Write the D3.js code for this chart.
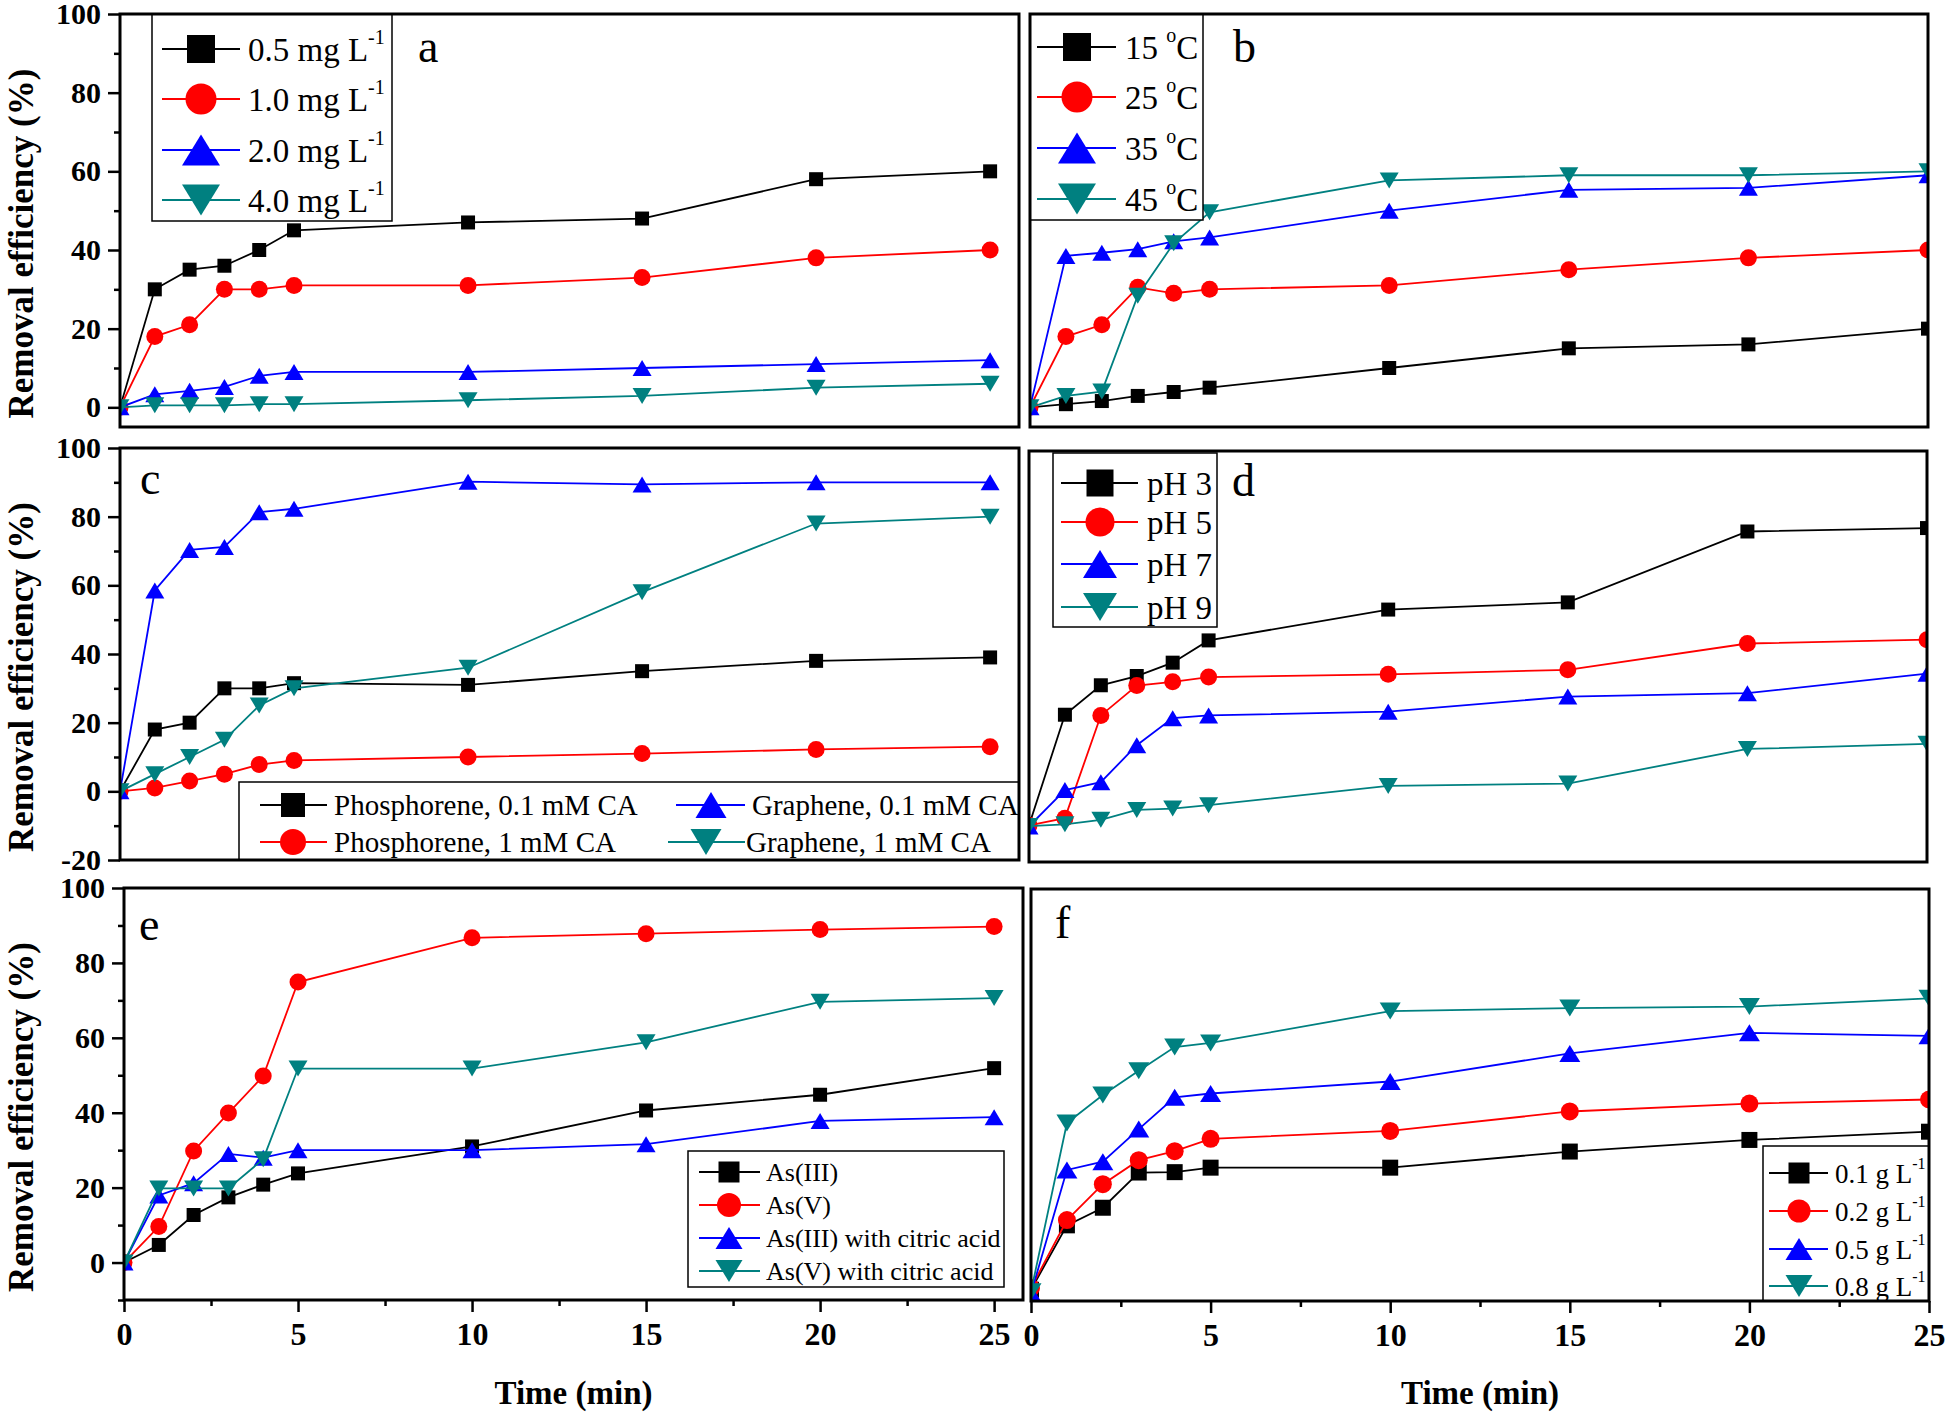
<!DOCTYPE html>
<html>
<head>
<meta charset="utf-8">
<script src="https://cdn.jsdelivr.net/npm/d3@7"></script>
<style>
  body { margin: 0; background: #fff; }
  svg { display: block; }
  text { font-family: "Liberation Serif", "Times New Roman", serif; }
</style>
</head>
<body>
<div id="vis"></div>
<script>
// sampling times (min), same for every panel
var timeMin = [0, 1, 2, 3, 4, 5, 10, 15, 20, 25];

// a - initial As concentration
var conc05 = [0, 30, 35, 36, 40, 45, 47, 48, 58, 60];
var conc10 = [0, 18, 21, 30, 30, 31, 31, 33, 38, 40];
var conc20 = [0, 3.3, 4.2, 5.2, 8, 9, 9, 10, 11, 12];
var conc40 = [0, 0.5, 0.5, 0.5, 0.8, 0.8, 1.8, 2.9, 5, 6];
var legendA = ['0.5 mg L^-1', '1.0 mg L^-1', '2.0 mg L^-1', '4.0 mg L^-1'];

// b - temperature
var temp15 = [0, 0.8, 1.6, 2.9, 3.9, 5, 10, 15, 16, 20];
var temp25 = [0, 18, 21, 30.5, 29, 30, 31, 35, 38, 40];
var temp35 = [0, 38.5, 39.3, 40.2, 42.2, 43.2, 50, 55.3, 55.8, 59];
var temp45 = [0, 2.9, 4, 28.4, 41.7, 49.6, 57.7, 59, 59, 60];
var legendB = ['15 ^o^C', '25 ^o^C', '35 ^o^C', '45 ^o^C'];

// c - citric acid, phosphorene vs graphene
var phos01 = [0, 18, 20, 30, 30, 31.5, 31, 35, 38, 39];
var phos1 = [0, 1, 3, 5, 7.8, 9, 10, 11, 12.2, 13];
var graph01 = [0, 58.5, 70.3, 71.2, 81.3, 82.3, 90.2, 89.4, 90, 90];
var graph1 = [0, 5, 10, 15, 25, 30, 36, 58, 78, 80];
var legendC = ['Phosphorene, 0.1 mM CA', 'Phosphorene, 1 mM CA', 'Graphene, 0.1 mM CA', 'Graphene, 1 mM CA'];

// d - pH
var ph3 = [-9.3, 23, 31.6, 34.3, 38.2, 44.7, 53.7, 55.8, 76.5, 77.5];
var ph5 = [-9.3, -7.2, 22.8, 31.5, 32.6, 34, 34.8, 36.1, 43.8, 44.9];
var ph7 = [-9.6, 1, 3.3, 14.1, 22, 22.8, 23.9, 28.3, 29.3, 35];
var ph9 = [-9.5, -9, -7.7, -4.8, -4.4, -3.4, 2.2, 2.9, 13, 14.5];
var legendD = ['pH 3', 'pH 5', 'pH 7', 'pH 9'];

// e - As species
var as3 = [0, 4.7, 12.7, 17.4, 20.8, 23.8, 31, 40.6, 44.8, 51.9];
var as5 = [0, 9.6, 29.8, 39.9, 49.8, 74.9, 86.7, 87.8, 88.9, 89.7];
var as3ca = [0, 17.9, 21.2, 29, 28, 30, 30, 31.6, 37.8, 38.8];
var as5ca = [0, 19.8, 19.8, 19.8, 27.6, 51.8, 51.8, 58.8, 69.6, 70.6];
var legendE = ['As(III)', 'As(V)', 'As(III) with citric acid', 'As(V) with citric acid'];

// f - adsorbent dose
var dose01 = [-7, 10.2, 14.9, 24.3, 24.4, 25.6, 25.6, 29.9, 33, 35.2];
var dose02 = [-6.5, 11.6, 21.2, 27.6, 30, 33.3, 35.4, 40.6, 42.7, 43.8];
var dose05 = [-8, 25, 27.2, 35.9, 44.4, 45.4, 48.6, 56.1, 61.6, 60.8];
var dose08 = [-7.5, 37.5, 45, 51.5, 57.8, 58.9, 67.4, 68.2, 68.6, 70.8];
var legendF = ['0.1 g L^-1', '0.2 g L^-1', '0.5 g L^-1', '0.8 g L^-1'];

// axis ticks
var yMajor100 = [0, 20, 40, 60, 80, 100];
var yMinor100 = [10, 30, 50, 70, 90];
var yMajorC = [-20, 0, 20, 40, 60, 80, 100];
var yMinorC = [-10, 10, 30, 50, 70, 90];
var yMinorE = [-10, 10, 30, 50, 70, 90];
var xMajor = [0, 5, 10, 15, 20, 25];
var xMinor = [2.5, 7.5, 12.5, 17.5, 22.5];

var colors = ['#000000', '#ff0000', '#0000ff', '#008080'];
var shapes = ['square', 'circle', 'up', 'down'];

var width = 1946, height = 1414;

var svg = d3.select('#vis').append('svg')
    .attr('width', width)
    .attr('height', height);

// plain hyphen for negatives, like the original figure
function tickText(d) { return String(d); }

function markerPath(shape, sz) {
    var s, r, w, h;
    if (shape === 'square') {
        s = sz.sq / 2;
        return 'M' + (-s) + ',' + (-s) + 'H' + s + 'V' + s + 'H' + (-s) + 'Z';
    }
    if (shape === 'circle') {
        r = sz.ci / 2;
        return 'M' + r + ',0A' + r + ',' + r + ' 0 1 1 ' + (-r) + ',0A' + r + ',' + r + ' 0 1 1 ' + r + ',0Z';
    }
    w = sz.tw / 2; h = sz.th / 2;
    if (shape === 'up') return 'M0,' + (-h) + 'L' + w + ',' + h + 'L' + (-w) + ',' + h + 'Z';
    return 'M0,' + h + 'L' + w + ',' + (-h) + 'L' + (-w) + ',' + (-h) + 'Z';
}

// '0.5 mg L^-1' -> normal / superscript pieces
function addRichText(sel, str, fs, supFs) {
    var parts = str.split('^');
    var raised = false;
    parts.forEach(function (pt, i) {
        var sup = i % 2 === 1;
        var ts = sel.append('tspan').text(pt);
        if (sup) {
            ts.attr('font-size', supFs).attr('dy', -fs * 0.52);
            raised = true;
        } else if (raised) {
            ts.attr('dy', fs * 0.52);
            raised = false;
        }
    });
}

var panels = [
    { id: 'a', left: 120, right: 1019, top: 14, bottom: 427, xDomain: [0, 25.83], yDomain: [-5, 100],
      series: [conc05, conc10, conc20, conc40], yMajor: yMajor100, yMinor: yMinor100,
      label: { x: 418, y: 62 }, mk: { sq: 14, ci: 17, tw: 19, th: 16 },
      legend: { names: legendA, box: [152, 14, 392, 221], fs: 33, supFs: 20,
        mk: { sq: 28, ci: 31, tw: 38, th: 31 },
        items: [[49, 162, 240, 201, 248], [99, 162, 240, 201, 248], [150, 162, 240, 201, 248], [200, 162, 240, 201, 248]] } },
    { id: 'b', left: 1030, right: 1928, top: 14, bottom: 427, xDomain: [0, 25], yDomain: [-5, 100],
      series: [temp15, temp25, temp35, temp45],
      label: { x: 1233, y: 62 }, mk: { sq: 14, ci: 17, tw: 19, th: 16 },
      legend: { names: legendB, box: [1030, 14, 1203, 220], fs: 33, supFs: 20,
        mk: { sq: 28, ci: 31, tw: 38, th: 31 },
        items: [[47, 1037, 1116, 1077, 1125], [97, 1037, 1116, 1077, 1125], [148, 1037, 1116, 1077, 1125], [199, 1037, 1116, 1077, 1125]] } },
    { id: 'c', left: 120, right: 1019, top: 448, bottom: 860, xDomain: [0, 25.83], yDomain: [-20, 100],
      series: [phos01, phos1, graph01, graph1], yMajor: yMajorC, yMinor: yMinorC,
      label: { x: 140, y: 494 }, mk: { sq: 14, ci: 17, tw: 19, th: 16 },
      legend: { names: legendC, box: [239, 782, 1019, 860], fs: 29, supFs: 18,
        mk: { sq: 24, ci: 26, tw: 31, th: 26 },
        items: [[805, 260, 327, 293, 334], [842, 260, 327, 293, 334], [805, 676, 745, 711, 752], [842, 668, 745, 706, 746]] } },
    { id: 'd', left: 1029, right: 1927, top: 451, bottom: 862, xDomain: [0, 25], yDomain: [-20, 100],
      series: [ph3, ph5, ph7, ph9],
      label: { x: 1232, y: 496 }, mk: { sq: 14, ci: 17, tw: 19, th: 16 },
      legend: { names: legendD, box: [1053, 453, 1217, 627], fs: 33, supFs: 20,
        mk: { sq: 27, ci: 29, tw: 34, th: 28 },
        items: [[483, 1061, 1138, 1100, 1147], [522, 1061, 1138, 1100, 1147], [564, 1061, 1138, 1100, 1147], [607, 1061, 1138, 1100, 1147]] } },
    { id: 'e', left: 124, right: 1023, top: 888, bottom: 1300, xDomain: [0, 25.83], yDomain: [-10, 100],
      series: [as3, as5, as3ca, as5ca], yMajor: yMajor100, yMinor: yMinorE, xAxis: true,
      label: { x: 139, y: 940 }, mk: { sq: 14, ci: 17, tw: 19, th: 16 },
      legend: { names: legendE, box: [688, 1151, 1004, 1287], fs: 26, supFs: 16,
        mk: { sq: 21, ci: 24, tw: 27, th: 22 },
        items: [[1172, 699, 760, 729, 766], [1205, 699, 760, 729, 766], [1238, 699, 760, 729, 766], [1271, 699, 760, 729, 766]] } },
    { id: 'f', left: 1031, right: 1929, top: 889, bottom: 1301, xDomain: [0, 25], yDomain: [-10, 100],
      series: [dose01, dose02, dose05, dose08], xAxis: true,
      label: { x: 1055, y: 938 }, mk: { sq: 16, ci: 18, tw: 21, th: 17 },
      legend: { names: legendF, box: [1763, 1146, 1929, 1301], fs: 27, supFs: 16,
        mk: { sq: 21, ci: 23, tw: 27, th: 22 },
        items: [[1173, 1769, 1828, 1799, 1835], [1211, 1769, 1828, 1799, 1835], [1249, 1769, 1828, 1799, 1835], [1286, 1769, 1828, 1799, 1835]] } }
];

function drawPanel(p) {
    var x = d3.scaleLinear().domain(p.xDomain).range([p.left, p.right]);
    var y = d3.scaleLinear().domain(p.yDomain).range([p.bottom, p.top]);
    var g = svg.append('g').attr('class', 'panel-' + p.id);

    g.append('clipPath').attr('id', 'clip-' + p.id)
        .append('rect')
        .attr('x', p.left).attr('y', p.top)
        .attr('width', p.right - p.left).attr('height', p.bottom - p.top);

    var plot = g.append('g').attr('clip-path', 'url(#clip-' + p.id + ')');
    var line = d3.line()
        .x(function (d) { return x(d[0]); })
        .y(function (d) { return y(d[1]); });

    p.series.forEach(function (vals, i) {
        var pts = timeMin.map(function (t, k) { return [t, vals[k]]; });
        plot.append('path')
            .datum(pts)
            .attr('d', line)
            .attr('fill', 'none')
            .attr('stroke', colors[i])
            .attr('stroke-width', 1.8);
        plot.selectAll('.m' + i)
            .data(pts)
            .enter().append('path')
            .attr('class', 'm' + i)
            .attr('transform', function (d) { return 'translate(' + x(d[0]) + ',' + y(d[1]) + ')'; })
            .attr('d', markerPath(shapes[i], p.mk))
            .attr('fill', colors[i]);
    });

    // y axis
    if (p.yMajor) {
        var ax = g.append('g').attr('transform', 'translate(' + p.left + ',0)')
            .call(d3.axisLeft(y).tickValues(p.yMajor).tickSize(12).tickPadding(7).tickFormat(tickText));
        ax.select('.domain').remove();
        ax.selectAll('line').attr('stroke-width', 2.5);
        ax.selectAll('text').attr('font-size', 30).attr('font-weight', 'bold')
            .attr('font-family', '"Liberation Serif", "Times New Roman", serif').attr('fill', '#000');
        var axm = g.append('g').attr('transform', 'translate(' + p.left + ',0)')
            .call(d3.axisLeft(y).tickValues(p.yMinor).tickSize(6).tickFormat(''));
        axm.select('.domain').remove();
        axm.selectAll('line').attr('stroke-width', 2.5);

        g.append('text')
            .attr('transform', 'translate(33,' + ((p.top + p.bottom) / 2 + 23) + ') rotate(-90)')
            .attr('text-anchor', 'middle')
            .attr('font-size', 35)
            .attr('font-weight', 'bold')
            .text('Removal efficiency (%)');
    }

    // x axis
    if (p.xAxis) {
        var bx = g.append('g').attr('transform', 'translate(0,' + p.bottom + ')')
            .call(d3.axisBottom(x).tickValues(xMajor).tickSize(12).tickPadding(10).tickFormat(tickText));
        bx.select('.domain').remove();
        bx.selectAll('line').attr('stroke-width', 2.5);
        bx.selectAll('text').attr('font-size', 32).attr('font-weight', 'bold')
            .attr('font-family', '"Liberation Serif", "Times New Roman", serif').attr('fill', '#000');
        var bxm = g.append('g').attr('transform', 'translate(0,' + p.bottom + ')')
            .call(d3.axisBottom(x).tickValues(xMinor).tickSize(6).tickFormat(''));
        bxm.select('.domain').remove();
        bxm.selectAll('line').attr('stroke-width', 2.5);

        g.append('text')
            .attr('x', (p.left + p.right) / 2)
            .attr('y', 1404)
            .attr('text-anchor', 'middle')
            .attr('font-size', 33)
            .attr('font-weight', 'bold')
            .text('Time (min)');
    }

    // legend
    var lg = p.legend;
    g.append('rect')
        .attr('x', lg.box[0]).attr('y', lg.box[1])
        .attr('width', lg.box[2] - lg.box[0]).attr('height', lg.box[3] - lg.box[1])
        .attr('fill', '#fff').attr('stroke', '#000').attr('stroke-width', 1.5);
    lg.items.forEach(function (it, i) {
        g.append('line')
            .attr('x1', it[1]).attr('x2', it[2]).attr('y1', it[0]).attr('y2', it[0])
            .attr('stroke', colors[i]).attr('stroke-width', 1.8);
        g.append('path')
            .attr('transform', 'translate(' + it[3] + ',' + it[0] + ')')
            .attr('d', markerPath(shapes[i], lg.mk))
            .attr('fill', colors[i]);
        var t = g.append('text')
            .attr('x', it[4]).attr('y', it[0] + lg.fs * 0.36)
            .attr('font-size', lg.fs);
        addRichText(t, lg.names[i], lg.fs, lg.supFs);
    });

    // frame
    g.append('rect')
        .attr('x', p.left).attr('y', p.top)
        .attr('width', p.right - p.left).attr('height', p.bottom - p.top)
        .attr('fill', 'none').attr('stroke', '#000').attr('stroke-width', 3);

    g.append('text')
        .attr('x', p.label.x).attr('y', p.label.y)
        .attr('font-size', 46)
        .text(p.id);
}

panels.forEach(drawPanel);
</script>
</body>
</html>
